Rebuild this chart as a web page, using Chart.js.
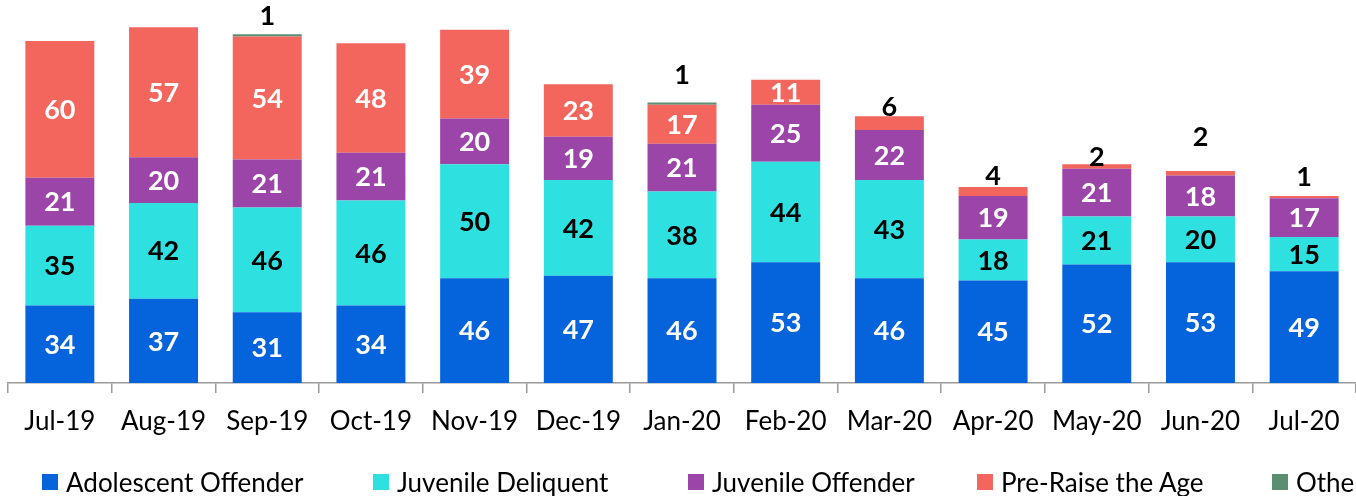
<!DOCTYPE html>
<html>
<head>
<meta charset="utf-8">
<script src="https://cdn.jsdelivr.net/npm/chart.js@4.4.1/dist/chart.umd.min.js"></script>
<style>
  html, body { margin: 0; padding: 0; background: #fff; overflow: hidden; }
  #wrap { position: relative; width: 1356px; height: 496px; }
  #legend { position: absolute; left: 0; top: 466px; width: 1356px; height: 32px; overflow: hidden; font-family: Lato, sans-serif; font-size: 26px; color: #000; }
  .li { position: absolute; top: 0; white-space: nowrap; display: flex; align-items: center; height: 32px; }
  .box { width: 16px; height: 16px; margin-right: 8px; }
</style>
</head>
<body>
<div id="wrap">
  <canvas id="c" width="1356" height="496"></canvas>
  <div id="legend"></div>
</div>
<script>
const categories = ['Jul-19','Aug-19','Sep-19','Oct-19','Nov-19','Dec-19','Jan-20','Feb-20','Mar-20','Apr-20','May-20','Jun-20','Jul-20'];
const adolescentOffender = [34,37,31,34,46,47,46,53,46,45,52,53,49];
const juvenileDeliquent = [35,42,46,46,50,42,38,44,43,18,21,20,15];
const juvenileOffender  = [21,20,21,21,20,19,21,25,22,19,21,18,17];
const preRaiseTheAge    = [60,57,54,48,39,23,17,11,6,4,2,2,1];
const other             = [0,0,1,0,0,0,1,0,0,0,0,0,0];
const seriesNames = ['Adolescent Offender','Juvenile Deliquent','Juvenile Offender','Pre-Raise the Age','Othe'];

const colors = ['#0563DB','#2EE0E0','#9B45A8','#F2665E','#5B8F73'];
const insideText = ['#fff','#000','#fff','#fff','#fff'];
// vertical distance from stack top to the above-bar label centre (label layout only)
const aboveOffsets = [null,null,18,null,null,null,27,null,9,11,7,34,19];
const legendLeft = [42,373,688,977,1272];

const FONT = 'Lato, sans-serif';

const labelPlugin = {
  id: 'barLabels',
  afterDatasetsDraw(chart) {
    const ctx = chart.ctx;
    ctx.save();
    ctx.textAlign = 'center';
    ctx.textBaseline = 'middle';
    ctx.font = 'bold 27px ' + FONT;
    const n = chart.data.labels.length;
    for (let j = 0; j < n; j++) {
      let top = Infinity;
      chart.data.datasets.forEach((ds, i) => {
        const el = chart.getDatasetMeta(i).data[j];
        if (ds.data[j] > 0) top = Math.min(top, el.y);
      });
      chart.data.datasets.forEach((ds, i) => {
        const v = ds.data[j];
        if (!v) return;
        const el = chart.getDatasetMeta(i).data[j];
        if (v >= 10) {
          ctx.fillStyle = insideText[i];
          ctx.fillText(String(v), el.x, (el.y + el.base) / 2 + 1);
        } else {
          const isTopSeries = chart.data.datasets.every((d2, k) => k <= i || !d2.data[j]);
          if (!isTopSeries) return;
          ctx.fillStyle = '#000';
          ctx.fillText(String(v), el.x, top - (aboveOffsets[j] || 12));
        }
      });
    }
    ctx.restore();
  }
};

const seriesData = [adolescentOffender, juvenileDeliquent, juvenileOffender, preRaiseTheAge, other];

const chart = new Chart(document.getElementById('c'), {
  type: 'bar',
  data: {
    labels: categories,
    datasets: seriesData.map((d, i) => ({
      label: seriesNames[i],
      data: d,
      backgroundColor: colors[i],
      borderWidth: 0,
      barPercentage: 0.665,
      categoryPercentage: 1.0
    }))
  },
  options: {
    responsive: false,
    animation: false,
    layout: { padding: { left: 8, right: 0, top: 0, bottom: 0 } },
    plugins: { legend: { display: false }, tooltip: { enabled: false } },
    scales: {
      x: {
        stacked: true,
        offset: true,
        grid: { display: true, drawOnChartArea: false, drawTicks: true, tickLength: 10, color: '#9a9a9a', lineWidth: 1.5 },
        border: { display: true, color: '#9a9a9a', width: 1.5 },
        ticks: { color: '#000', font: { family: FONT, size: 26 }, padding: 13, maxRotation: 0, autoSkip: false },
        afterFit(scale) { scale.height = 113; }
      },
      y: {
        stacked: true,
        display: false,
        min: 0,
        max: 168
      }
    }
  },
  plugins: [labelPlugin]
});

const legend = document.getElementById('legend');
chart.data.datasets.forEach((ds, i) => {
  const item = document.createElement('div');
  item.className = 'li';
  item.style.left = legendLeft[i] + 'px';
  const b = document.createElement('span');
  b.className = 'box';
  b.style.background = ds.backgroundColor;
  const t = document.createElement('span');
  t.textContent = ds.label;
  item.appendChild(b); item.appendChild(t);
  legend.appendChild(item);
});
</script>
</body>
</html>
